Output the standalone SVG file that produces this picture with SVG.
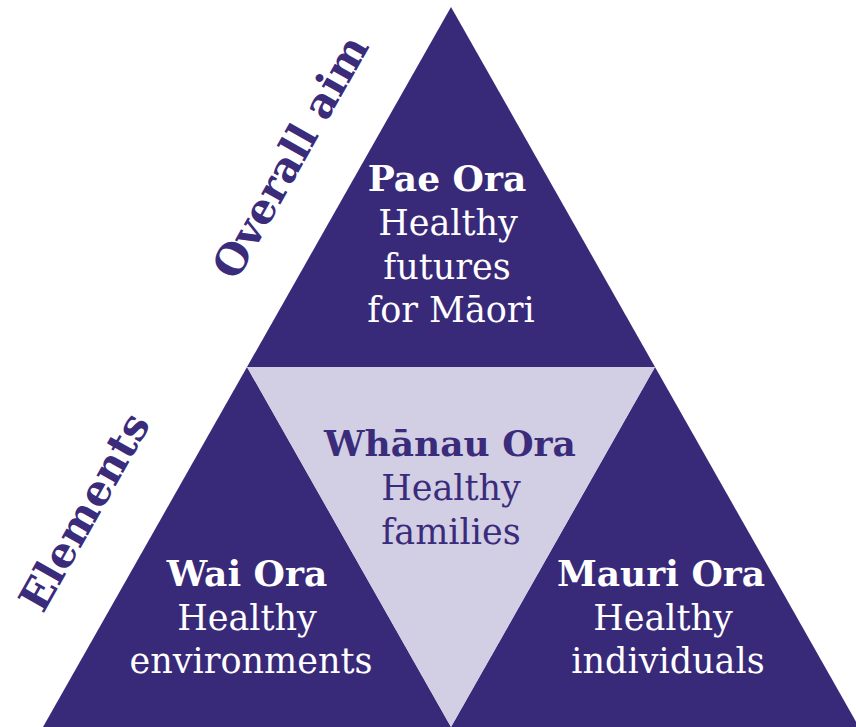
<svg xmlns="http://www.w3.org/2000/svg" width="856" height="727" viewBox="0 0 856 727">
<style>
.dark{fill:#392a79}
.light{fill:#d2cee3}
.t{font-family:"DejaVu Serif","Liberation Serif",serif;font-size:35px;text-anchor:middle}
.b{font-weight:bold;font-size:36px}
.w{fill:#ffffff}
.p{fill:#3a2b7b}
.lab{font-family:"DejaVu Serif","Liberation Serif",serif;font-size:42px;font-weight:bold;fill:#3a2b7b;text-anchor:middle}
</style>
<rect width="856" height="727" fill="#ffffff"/>
<g id="pae-ora">
<polygon class="dark" points="451,7 247,367 655,367"/>
<text class="t b w" x="447" y="191">Pae Ora</text>
<text class="t w" x="448" y="235">Healthy</text>
<text class="t w" x="447" y="279">futures</text>
<text class="t w" x="451" y="322">for Māori</text>
</g>
<g id="wai-ora">
<polygon class="dark" points="247,367 43,727 451,727"/>
<text class="t b w" x="247" y="586">Wai Ora</text>
<text class="t w" x="247" y="630">Healthy</text>
<text class="t w" x="251" y="673">environments</text>
</g>
<g id="mauri-ora">
<polygon class="dark" points="655,367 451,727 859,727"/>
<text class="t b w" x="661" y="586">Mauri Ora</text>
<text class="t w" x="663" y="630">Healthy</text>
<text class="t w" x="668" y="673">individuals</text>
</g>
<g id="whanau-ora">
<polygon class="light" points="247,367 655,367 451,727"/>
<text class="t b p" x="450" y="456">Whānau Ora</text>
<text class="t p" x="451" y="500">Healthy</text>
<text class="t p" x="451" y="544">families</text>
</g>
<g id="labels">
<text id="overall-aim" class="lab" x="303" y="164" transform="rotate(-60.5 303 164)">Overall aim</text>
<text id="elements" class="lab" x="97" y="519" transform="rotate(-60.5 97 519)">Elements</text>
</g>
<g id="connectors"></g>
</svg>
